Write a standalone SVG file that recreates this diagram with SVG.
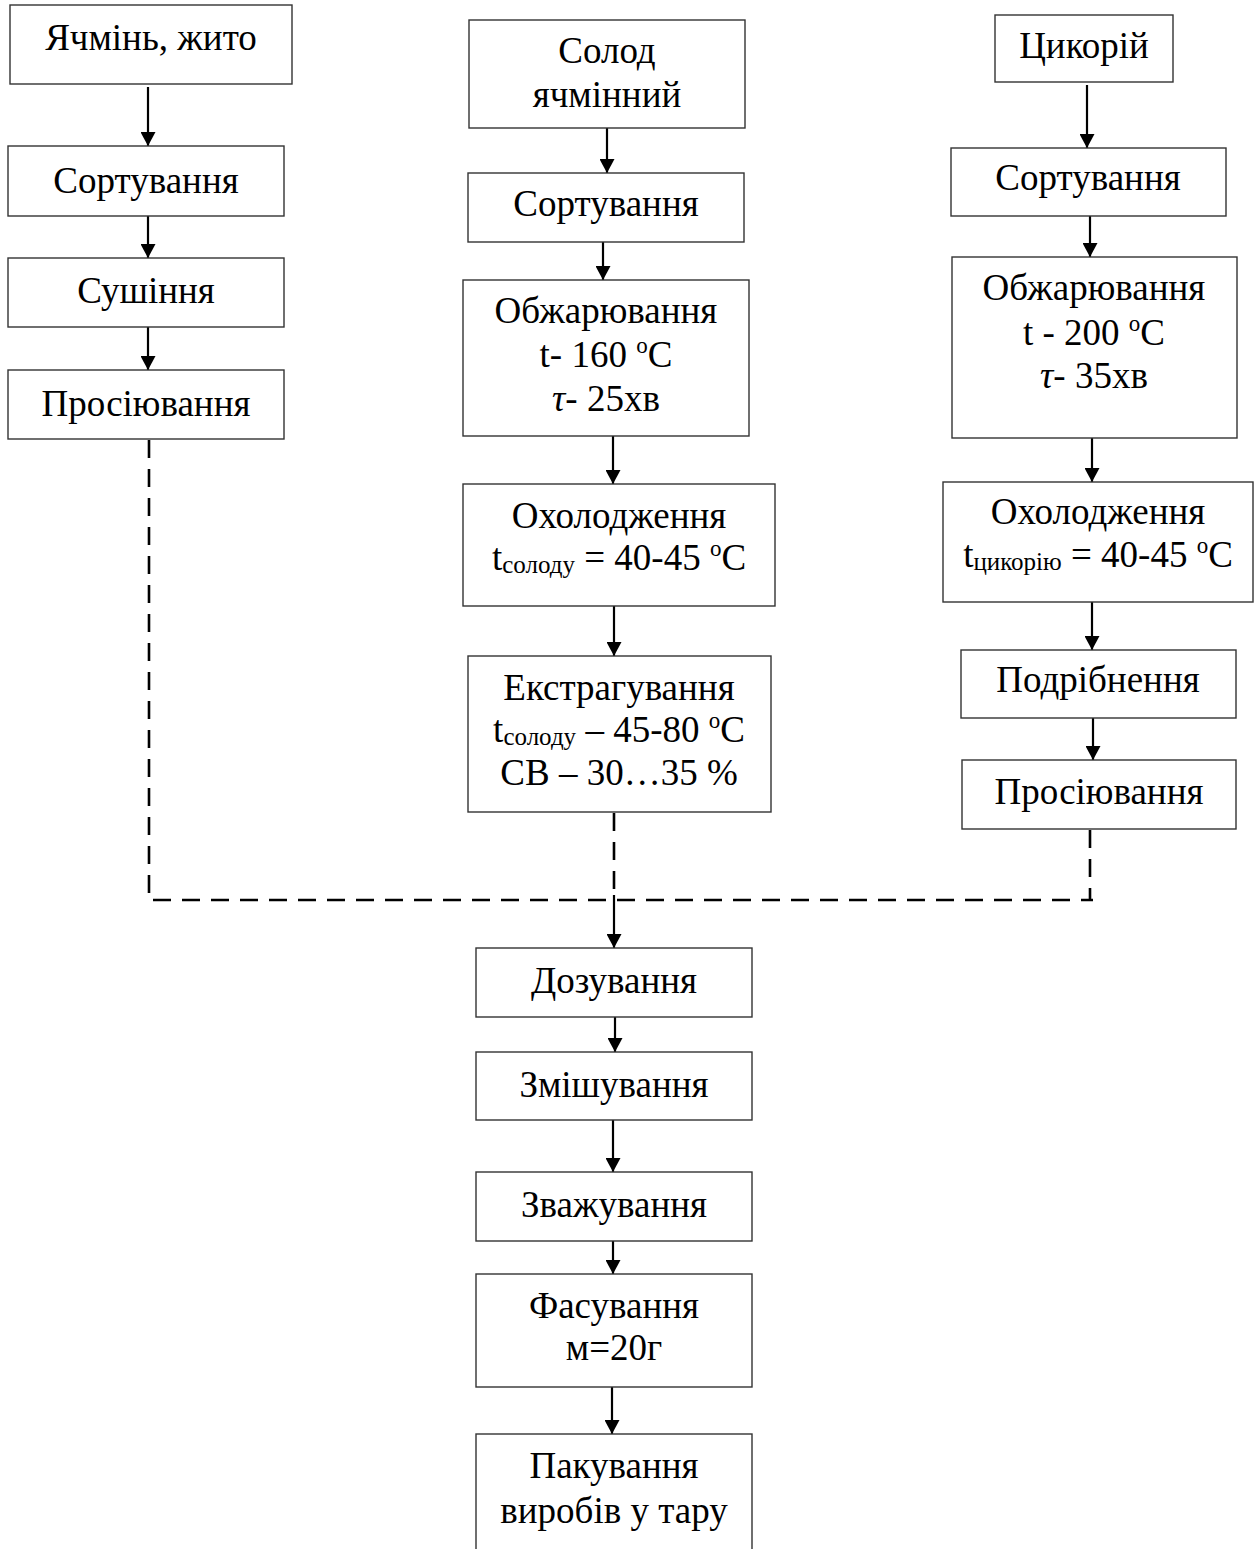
<svg xmlns="http://www.w3.org/2000/svg" width="1255" height="1549" viewBox="0 0 1255 1549">
<style>
.box{fill:#fff;stroke:#333;stroke-width:1.4}
text{font-family:'Liberation Serif','Times New Roman',serif;font-size:37px;fill:#000;text-anchor:middle}
.sub{font-size:25px}
.sup{font-size:23px}
.it{font-style:italic}
.ln{stroke:#000;stroke-width:2.2;fill:none}
.dash{stroke:#000;stroke-width:2.6;fill:none;stroke-dasharray:18 11}
</style>
<defs>
<marker id="ah" viewBox="0 0 14 15" refX="14" refY="7.5" markerWidth="14" markerHeight="15" markerUnits="userSpaceOnUse" orient="auto">
<path d="M0,0 L14,7.5 L0,15 z" fill="#000"/>
</marker>
</defs>
<rect width="1255" height="1549" fill="#fff"/>

<g id="connectors">
<line class="ln" x1="148" y1="87" x2="148" y2="146" marker-end="url(#ah)"/>
<line class="ln" x1="148" y1="216" x2="148" y2="258" marker-end="url(#ah)"/>
<line class="ln" x1="148" y1="327" x2="148" y2="370" marker-end="url(#ah)"/>
<line class="ln" x1="607" y1="128" x2="607" y2="173" marker-end="url(#ah)"/>
<line class="ln" x1="603" y1="242" x2="603" y2="280" marker-end="url(#ah)"/>
<line class="ln" x1="613" y1="436" x2="613" y2="484" marker-end="url(#ah)"/>
<line class="ln" x1="614" y1="606" x2="614" y2="656" marker-end="url(#ah)"/>
<line class="ln" x1="1087" y1="85" x2="1087" y2="148" marker-end="url(#ah)"/>
<line class="ln" x1="1090" y1="216" x2="1090" y2="257" marker-end="url(#ah)"/>
<line class="ln" x1="1092" y1="438" x2="1092" y2="482" marker-end="url(#ah)"/>
<line class="ln" x1="1092" y1="602" x2="1092" y2="650" marker-end="url(#ah)"/>
<line class="ln" x1="1093" y1="718" x2="1093" y2="760" marker-end="url(#ah)"/>
<path class="dash" d="M149,440 L149,900 L1093,900"/>
<path class="dash" d="M1090,830 L1090,900"/>
<path class="dash" d="M614,813 L614,900"/>
<line class="ln" x1="614" y1="895" x2="614" y2="948" marker-end="url(#ah)"/>
<line class="ln" x1="615" y1="1017" x2="615" y2="1052" marker-end="url(#ah)"/>
<line class="ln" x1="613" y1="1120" x2="613" y2="1172" marker-end="url(#ah)"/>
<line class="ln" x1="613" y1="1241" x2="613" y2="1274" marker-end="url(#ah)"/>
<line class="ln" x1="612" y1="1387" x2="612" y2="1434" marker-end="url(#ah)"/>
</g>

<g id="n-barley"><rect class="box" x="10" y="5" width="282" height="79"/><text x="151" y="50">Ячмінь, жито</text></g>
<g id="n-sort1"><rect class="box" x="8" y="146" width="276" height="70"/><text x="146" y="193">Сортування</text></g>
<g id="n-dry"><rect class="box" x="8" y="258" width="276" height="69"/><text x="146" y="303">Сушіння</text></g>
<g id="n-sift1"><rect class="box" x="8" y="370" width="276" height="69"/><text x="146" y="416">Просіювання</text></g>

<g id="n-malt"><rect class="box" x="469" y="20" width="276" height="108"/><text x="607" y="63">Солод</text><text x="607" y="107">ячмінний</text></g>
<g id="n-sort2"><rect class="box" x="468" y="173" width="276" height="69"/><text x="606" y="216">Сортування</text></g>
<g id="n-roast2"><rect class="box" x="463" y="280" width="286" height="156"/><text x="606" y="323">Обжарювання</text><text x="606" y="367">t- 160 <tspan class="sup" dy="-14">o</tspan><tspan dy="14">C</tspan></text><text x="606" y="411"><tspan class="it">τ</tspan>- 25хв</text></g>
<g id="n-cool2"><rect class="box" x="463" y="484" width="312" height="122"/><text x="619" y="528">Охолодження</text><text x="619" y="570">t<tspan class="sub" dy="3">солоду</tspan><tspan dy="-3"> = 40-45 </tspan><tspan class="sup" dy="-14">o</tspan><tspan dy="14">C</tspan></text></g>
<g id="n-extract"><rect class="box" x="468" y="656" width="303" height="156"/><text x="619" y="700">Екстрагування</text><text x="619" y="742">t<tspan class="sub" dy="3">солоду</tspan><tspan dy="-3"> – 45-80 </tspan><tspan class="sup" dy="-14">o</tspan><tspan dy="14">C</tspan></text><text x="619" y="785">СВ – 30…35 %</text></g>

<g id="n-chicory"><rect class="box" x="995" y="15" width="178" height="67"/><text x="1084" y="58">Цикорій</text></g>
<g id="n-sort3"><rect class="box" x="951" y="148" width="275" height="68"/><text x="1088" y="190">Сортування</text></g>
<g id="n-roast3"><rect class="box" x="952" y="257" width="285" height="181"/><text x="1094" y="300">Обжарювання</text><text x="1094" y="345">t - 200 <tspan class="sup" dy="-14">o</tspan><tspan dy="14">C</tspan></text><text x="1094" y="388"><tspan class="it">τ</tspan>- 35хв</text></g>
<g id="n-cool3"><rect class="box" x="943" y="482" width="310" height="120"/><text x="1098" y="524">Охолодження</text><text x="1098" y="567">t<tspan class="sub" dy="3">цикорію</tspan><tspan dy="-3"> = 40-45 </tspan><tspan class="sup" dy="-14">o</tspan><tspan dy="14">C</tspan></text></g>
<g id="n-grind"><rect class="box" x="961" y="650" width="275" height="68"/><text x="1098" y="692">Подрібнення</text></g>
<g id="n-sift3"><rect class="box" x="962" y="760" width="274" height="69"/><text x="1099" y="804">Просіювання</text></g>

<g id="n-dose"><rect class="box" x="476" y="948" width="276" height="69"/><text x="614" y="993">Дозування</text></g>
<g id="n-mix"><rect class="box" x="476" y="1052" width="276" height="68"/><text x="614" y="1097">Змішування</text></g>
<g id="n-weigh"><rect class="box" x="476" y="1172" width="276" height="69"/><text x="614" y="1217">Зважування</text></g>
<g id="n-pack"><rect class="box" x="476" y="1274" width="276" height="113"/><text x="614" y="1318">Фасування</text><text x="614" y="1360">м=20г</text></g>
<g id="n-box"><rect class="box" x="476" y="1434" width="276" height="130"/><text x="614" y="1478">Пакування</text><text x="614" y="1523">виробів у тару</text></g>
</svg>
